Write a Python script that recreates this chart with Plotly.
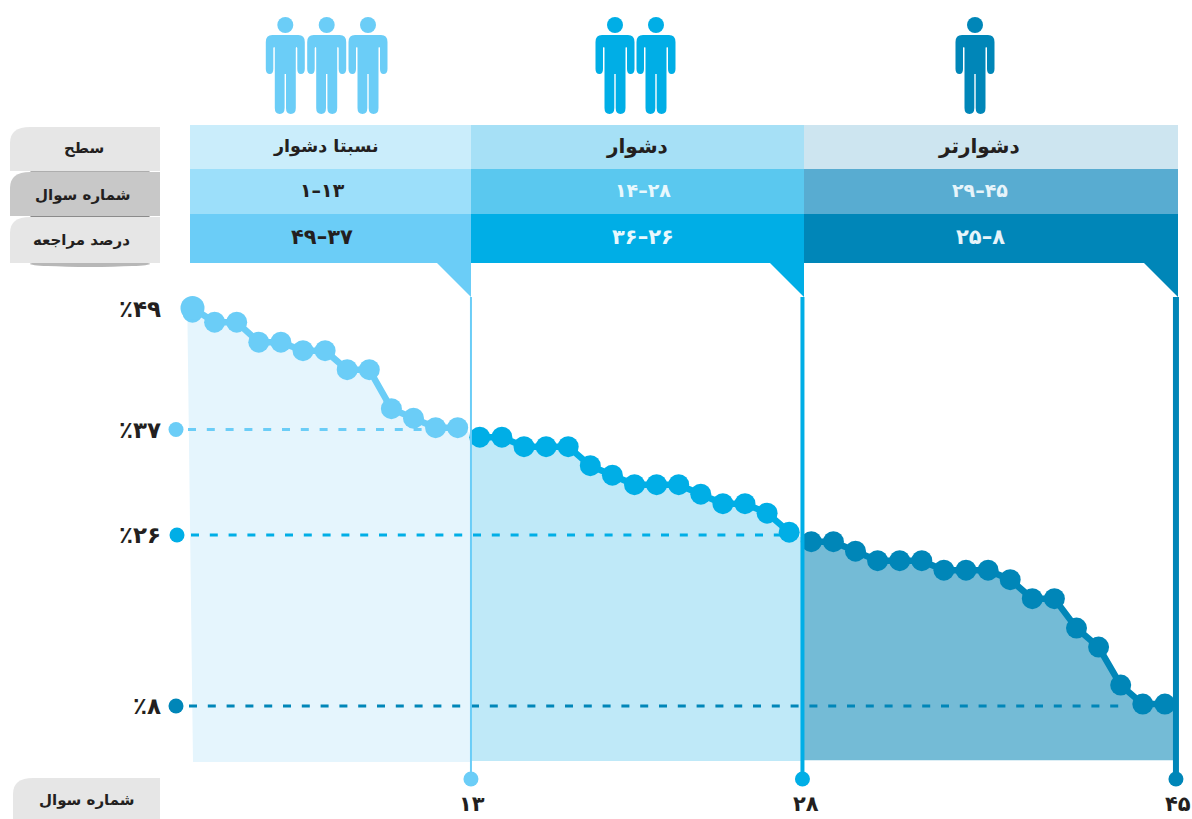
import numpy as np
import plotly.graph_objects as go

W, H = 1192, 819

# ---- data ----
questions = list(range(1, 46))
percent = [49.9, 48.4, 48.4, 46.3, 46.3, 45.4, 45.4, 43.4, 43.4, 39.3, 38.3, 37.3, 37.3,
           36.3, 36.3, 35.3, 35.3, 35.3, 33.3, 32.3, 31.3, 31.3, 31.3, 30.3, 29.3, 29.3, 28.3, 26.3,
           25.3, 25.3, 24.3, 23.3, 23.3, 23.3, 22.3, 22.3, 22.3, 21.3, 19.3, 19.3, 16.2, 14.2, 10.2, 8.2, 8.2]
first_point_shadow = 49.4
group_ends = [13, 28, 45]
group_names = ["نسبتا دشوار", "دشوار", "دشوارتر"]
group_ranges = ["۱–۱۳", "۱۴–۲۸", "۲۹–۴۵"]
group_percents = ["۴۹–۳۷", "۳۶–۲۶", "۲۵–۸"]
row_labels = ["سطح", "شماره سوال", "درصد مراجعه"]
axis_title = "شماره سوال"
level_values = [37.1, 26, 8]
level_labels = ["٪۳۷", "٪۲۶", "٪۸"]
top_label = "٪۴۹"
end_labels = ["۱۳", "۲۸", "۴۵"]
boundaries = [13.6, 28.6, 45.5]
baselines = [2.1, 2.2, 2.3]

# ---- style ----
C_MAIN = ["#6bcdf7", "#00aee6", "#0086b8"]
C_FILL = ["#e5f5fd", "#bfe9f8", "#74bbd6"]
C_BAND1 = ["#caedfb", "#a6e0f6", "#cde5f0"]
C_BAND2 = ["#9cdffa", "#5ac8ef", "#58acd1"]
FONT = "DejaVu Sans"
TXT = "#231f20"
V_WIDTH = [2, 4, 6]

SLOPE_X, X0 = 22.1, 192.5
SLOPE_Y, Y8 = 9.5, 706
x_range = [1 + (0 - X0) / SLOPE_X, 1 + (W - X0) / SLOPE_X]
y_range = [8 + (Y8 - H) / SLOPE_Y, 8 + Y8 / SLOPE_Y]


def px(x): return x / W
def py(y): return 1 - y / H
def vy(y): return 8 + (Y8 - y) / SLOPE_Y
def qx(x): return 1 + (x - X0) / SLOPE_X


def P(x, y): return f"{px(x):.5f},{py(y):.5f}"


shapes = []


def add_rect(x0, y0, x1, y1, color, layer="above"):
    shapes.append(dict(type="rect", xref="paper", yref="paper", x0=px(x0), x1=px(x1), y0=py(y0), y1=py(y1),
                       fillcolor=color, line_width=0, layer=layer))


def add_path(path, color):
    shapes.append(dict(type="path", xref="paper", yref="paper", path=path, fillcolor=color, line_width=0, layer="above"))


def add_ellipse(x0, y0, x1, y1, color, op=1):
    shapes.append(dict(type="circle", xref="paper", yref="paper", x0=px(x0), x1=px(x1), y0=py(y0), y1=py(y1),
                       fillcolor=color, line_width=0, layer="above", opacity=op))


def person(cx, color):
    add_ellipse(cx - 8, 17, cx + 8, 33, color)
    pts_r = [("L", cx + 13, 35), ("Q", cx + 19.5, 35, cx + 19.5, 42), ("L", cx + 19.5, 69),
             ("Q", cx + 19.5, 74, cx + 15.5, 74), ("Q", cx + 12, 74, cx + 12, 69), ("L", cx + 12, 48),
             ("Q", cx + 11, 46, cx + 10.5, 48),
             ("L", cx + 10.5, 108), ("Q", cx + 10.5, 114, cx + 5.5, 114), ("Q", cx + 0.7, 114, cx + 0.7, 108),
             ("L", cx + 0.7, 74), ("L", cx - 0.7, 74), ("L", cx - 0.7, 108),
             ("Q", cx - 0.7, 114, cx - 5.5, 114), ("Q", cx - 10.5, 114, cx - 10.5, 108), ("L", cx - 10.5, 48),
             ("Q", cx - 11, 46, cx - 12, 48), ("L", cx - 12, 69), ("Q", cx - 12, 74, cx - 15.5, 74),
             ("Q", cx - 19.5, 74, cx - 19.5, 69), ("L", cx - 19.5, 42), ("Q", cx - 19.5, 35, cx - 13, 35)]
    d = "M " + P(cx - 13, 35)
    for s in pts_r:
        if s[0] == "L":
            d += " L " + P(s[1], s[2])
        else:
            d += " Q " + P(s[1], s[2]) + " " + P(s[3], s[4])
    add_path(d + " Z", color)


def tab(x0, x1, y0, y1, color, r=20):
    d = ("M " + P(x1, y0) + " L " + P(x0 + r, y0) + " Q " + P(x0, y0) + " " + P(x0, y0 + r * 0.8) +
         " L " + P(x0, y1) + " L " + P(x1, y1) + " Z")
    add_path(d, color)


# header bands
edges = [190, 471, 804, 1178]
people_centres = [[285.3, 326.7, 368], [615, 656], [975]]
for i in range(3):
    a, b = edges[i], edges[i + 1]
    add_rect(a, 125, b, 169, C_BAND1[i])
    add_rect(a, 169, b, 214, C_BAND2[i])
    add_rect(a, 214, b, 263, C_MAIN[i])
    add_path("M " + P(b - 35, 262) + " L " + P(b, 297) + " L " + P(b, 262) + " Z", C_MAIN[i])
    for cx in people_centres[i]:
        person(cx, C_MAIN[i])

# left labels
add_ellipse(30, 169, 150, 174, "#8c8c8c", 0.7)
add_ellipse(30, 214, 150, 219, "#6e6e6e", 0.8)
add_ellipse(30, 261, 150, 267, "#999999", 0.7)
tab(10, 160, 127, 171, "#e6e6e6")
tab(10, 160, 172, 216, "#c8c8c8")
tab(10, 160, 217, 263, "#e6e6e6")
tab(13, 160, 778, 819, "#e6e6e6")

annotations = []


def label(x, y, text, size, bold=True, color=TXT, anchor="center"):
    annotations.append(dict(xref="paper", yref="paper", x=px(x), y=py(y), text=f"<b>{text}</b>" if bold else text,
                            showarrow=False, xanchor=anchor, yanchor="middle",
                            font=dict(family=FONT, size=size, color=color)))


title_x = [325.5, 636.5, 979]
range_x = [322, 643, 980]
title_size = [17.5, 20, 20]
digit_colors = [TXT, "#e8f8fd", "#e6f4fa"]
for i in range(3):
    label(title_x[i], 146, group_names[i], title_size[i])
    label(range_x[i], 190, group_ranges[i], 19, color=digit_colors[i])
    label(range_x[i], 237, group_percents[i], 21, color=digit_colors[i])
label(84, 148, row_labels[0], 15)
label(82, 195, row_labels[1], 15)
label(81, 240, row_labels[2], 15)
label(86, 800, axis_title, 15)

# ---- traces ----
q = np.array(questions, dtype=float)
v = np.array(percent, dtype=float)
traces = []
starts = [0, 13, 28]
for i in range(3):
    s, e = starts[i], group_ends[i]
    right = boundaries[i]
    left_top = boundaries[i - 1] if i else qx(187.3)
    left_bot = boundaries[i - 1] if i else qx(193)
    xs = [left_top] + list(q[s:e]) + [right]
    ys = [np.interp(left_top, q, v)] + list(v[s:e]) + [np.interp(right, q, v)]
    traces.append(go.Scatter(x=xs + [right, left_bot], y=ys + [baselines[i], baselines[i]], mode="lines", fill="toself",
                             fillcolor=C_FILL[i], line_width=0, hoverinfo="skip"))

dash_start = [188, 191, 189]
dash_end = [boundaries[0], q[27], 43.06]
level_dot_px = [176, 177, 176]
for i in range(3):
    traces.append(go.Scatter(x=[qx(dash_start[i]), dash_end[i]], y=[level_values[i]] * 2, mode="lines",
                             line=dict(color=C_MAIN[i], width=3, dash="8px,10.8px"), hoverinfo="skip"))
    traces.append(go.Scatter(x=[qx(level_dot_px[i])], y=[level_values[i]], mode="markers",
                             marker=dict(color=C_MAIN[i], size=15, opacity=1, line_width=0), hoverinfo="skip"))
    annotations.append(dict(xref="paper", yref="y", x=px(163), y=level_values[i], text=f"<b>{level_labels[i]}</b>",
                            showarrow=False, xanchor="right", yanchor="middle",
                            font=dict(family=FONT, size=23, color=TXT)))
annotations.append(dict(xref="paper", yref="y", x=px(163), y=v[0] - 0.1, text=f"<b>{top_label}</b>", showarrow=False,
                        xanchor="right", yanchor="middle", font=dict(family=FONT, size=23, color=TXT)))

traces.append(go.Scatter(x=[q[0]], y=[first_point_shadow], mode="markers",
                         marker=dict(color=C_MAIN[0], size=20, opacity=1, line_width=0), hoverinfo="skip"))
for i in range(3):
    s, e = starts[i], group_ends[i]
    sizes = [24] + [21] * (e - s - 1) if i == 0 else [21] * (e - s)
    xs = list(q[s:e])
    ys = list(v[s:e])
    traces.append(go.Scatter(x=xs, y=ys, mode="lines+markers", line=dict(color=C_MAIN[i], width=6.5),
                             marker=dict(color=C_MAIN[i], size=sizes, opacity=1, line_width=0), hoverinfo="skip"))

top_v, bot_v = vy(297), vy(779)
label_shift = [1, 3.5, 2]
for i in range(3):
    b = boundaries[i]
    traces.append(go.Scatter(x=[b, b], y=[top_v, bot_v], mode="lines", line=dict(color=C_MAIN[i], width=V_WIDTH[i]),
                             hoverinfo="skip"))
    traces.append(go.Scatter(x=[b], y=[bot_v], mode="markers",
                             marker=dict(color=C_MAIN[i], size=15, opacity=1, line_width=0), hoverinfo="skip"))
    annotations.append(dict(x=b + label_shift[i] / SLOPE_X, y=vy(803.5), xref="x", yref="y", text=f"<b>{end_labels[i]}</b>",
                            showarrow=False, font=dict(family=FONT, size=21, color=TXT)))

fig = go.Figure(traces)
fig.update_layout(
    width=W, height=H, margin=dict(l=0, r=0, t=0, b=0), paper_bgcolor="white", plot_bgcolor="white",
    showlegend=False, shapes=shapes, annotations=annotations,
    xaxis=dict(range=x_range, visible=False, fixedrange=True),
    yaxis=dict(range=y_range, visible=False, fixedrange=True),
)
fig.write_html("out.html", config=dict(displayModeBar=False),
               post_script="document.body.style.margin='0';document.body.style.overflow='hidden';")
